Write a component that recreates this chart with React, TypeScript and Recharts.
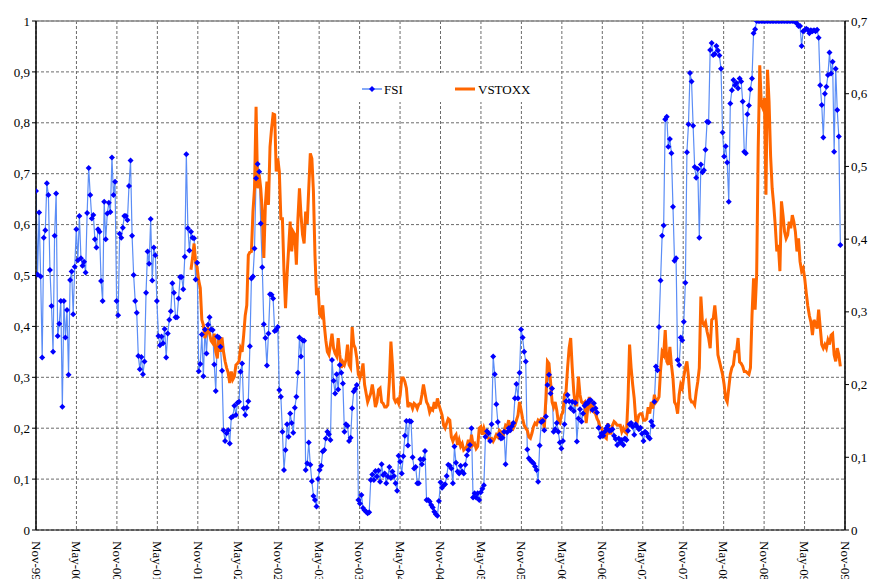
import React from 'react';
import { ComposedChart, Line, XAxis, YAxis, CartesianGrid, ReferenceLine } from 'recharts';

// Weekly observations, first week = start of Nov-1999
const FSI: number[] = [
  0.666, 0.502, 0.624, 0.498, 0.339, 0.574, 0.589, 0.681, 0.658, 0.511,
  0.44, 0.35, 0.578, 0.661, 0.381, 0.405, 0.45, 0.242, 0.45, 0.378,
  0.432, 0.305, 0.491, 0.508, 0.424, 0.517, 0.591, 0.53, 0.617, 0.534,
  0.519, 0.527, 0.506, 0.623, 0.711, 0.658, 0.612, 0.619, 0.571, 0.555,
  0.591, 0.586, 0.489, 0.45, 0.645, 0.571, 0.622, 0.643, 0.625, 0.732,
  0.658, 0.684, 0.45, 0.422, 0.582, 0.574, 0.594, 0.617, 0.617, 0.609,
  0.676, 0.726, 0.578, 0.501, 0.45,
  0.427, 0.342, 0.316, 0.34, 0.306, 0.331, 0.466, 0.547, 0.523, 0.611,
  0.49, 0.555, 0.54, 0.45, 0.381, 0.363, 0.38, 0.367, 0.395, 0.339,
  0.386, 0.413, 0.43, 0.485, 0.466, 0.418, 0.418, 0.455, 0.497, 0.497,
  0.473, 0.537, 0.738, 0.593, 0.549, 0.586, 0.574, 0.573, 0.492, 0.525,
  0.312, 0.326, 0.384, 0.302, 0.394, 0.347, 0.403, 0.418, 0.394, 0.393,
  0.325, 0.273, 0.38, 0.378, 0.36, 0.313, 0.196, 0.175, 0.19, 0.196,
  0.17, 0.221, 0.223, 0.244,
  0.226, 0.25, 0.252, 0.311, 0.327, 0.239, 0.226, 0.24, 0.253, 0.361,
  0.494, 0.498, 0.553, 0.691, 0.719, 0.704, 0.602, 0.516, 0.404, 0.377,
  0.323, 0.386, 0.463, 0.462, 0.455, 0.391, 0.393, 0.399, 0.275, 0.262,
  0.193, 0.118, 0.157, 0.208, 0.183, 0.229, 0.21, 0.191, 0.24, 0.262,
  0.309, 0.378, 0.341, 0.373, 0.372, 0.118, 0.131, 0.172, 0.128, 0.096,
  0.067, 0.059, 0.046, 0.1, 0.118, 0.126, 0.154, 0.157, 0.18, 0.193,
  0.188, 0.177, 0.334, 0.293, 0.268,
  0.306, 0.276, 0.324, 0.309, 0.288, 0.193, 0.208, 0.205, 0.175, 0.181,
  0.239, 0.272, 0.277, 0.285, 0.059, 0.052, 0.069, 0.043, 0.039, 0.036,
  0.033, 0.035, 0.098, 0.109, 0.098, 0.116, 0.105, 0.117, 0.095, 0.129,
  0.108, 0.111, 0.092, 0.105, 0.124, 0.102, 0.115, 0.106, 0.092, 0.077,
  0.146, 0.134, 0.111, 0.145, 0.185, 0.214, 0.166, 0.214, 0.213, 0.143,
  0.121, 0.124, 0.092, 0.092, 0.139, 0.129, 0.139, 0.155, 0.059, 0.059,
  0.056, 0.049, 0.044, 0.036, 0.031,
  0.028, 0.057, 0.094, 0.083, 0.088, 0.09, 0.106, 0.128, 0.126, 0.121,
  0.092, 0.164, 0.132, 0.115, 0.111, 0.126, 0.115, 0.111, 0.128, 0.147,
  0.157, 0.167, 0.2, 0.064, 0.072, 0.064, 0.072, 0.059, 0.074, 0.081,
  0.088, 0.183, 0.194, 0.19, 0.175, 0.208, 0.341, 0.306, 0.247, 0.212,
  0.187, 0.18, 0.181, 0.193, 0.129, 0.192, 0.2, 0.196, 0.204, 0.21,
  0.259, 0.287, 0.259, 0.309, 0.394, 0.378, 0.35, 0.331, 0.158, 0.141,
  0.137, 0.134, 0.131, 0.125, 0.118,
  0.095, 0.166, 0.212, 0.214, 0.196, 0.223, 0.285, 0.305, 0.268, 0.278,
  0.193, 0.198, 0.21, 0.193, 0.172, 0.16, 0.175, 0.208, 0.253, 0.265,
  0.253, 0.239, 0.252, 0.234, 0.25, 0.174, 0.219, 0.237, 0.213, 0.229,
  0.244, 0.249, 0.249, 0.255, 0.255, 0.236, 0.249, 0.239, 0.231, 0.201,
  0.183, 0.19, 0.185, 0.193, 0.2, 0.205, 0.195, 0.196, 0.198, 0.185,
  0.179, 0.167, 0.18, 0.172, 0.177, 0.167, 0.18, 0.177, 0.195, 0.208,
  0.21, 0.203, 0.187,
  0.208, 0.203, 0.198, 0.201, 0.189, 0.175, 0.193, 0.19, 0.183, 0.18,
  0.213, 0.205, 0.252, 0.321, 0.314, 0.399, 0.49, 0.578, 0.598, 0.807,
  0.812, 0.753, 0.768, 0.74, 0.635, 0.529, 0.534, 0.334, 0.324, 0.378,
  0.373, 0.409, 0.486, 0.742, 0.797, 0.898, 0.881, 0.794, 0.713, 0.692,
  0.709, 0.574, 0.718, 0.703, 0.707, 0.747, 0.802, 0.801, 0.943, 0.957,
  0.933, 0.935, 0.951, 0.942, 0.932, 0.906, 0.781, 0.734, 0.754, 0.722,
  0.645, 0.838, 0.864, 0.884, 0.874,
  0.878, 0.868, 0.887, 0.881, 0.842, 0.743, 0.74, 0.817, 0.834, 0.866,
  0.887, 0.976, 0.984,
  1, 1, 1, 1, 1, 1, 1, 1, 1, 1, 1, 1, 1, 1, 1, 1, 1, 1, 1, 1, 1, 1, 1, 1, 1,
  0.998, 0.995, 0.99, 0.99, 0.951,
  0.98, 0.982, 0.985, 0.983, 0.976, 0.982, 0.98, 0.982, 0.98, 0.983,
  0.967, 0.874, 0.835, 0.771, 0.857, 0.871, 0.894, 0.938, 0.897, 0.92,
  0.743, 0.906, 0.825, 0.773, 0.56,
];

// VSTOXX weekly, starting in week 100 (Oct-2001)
const VSTOXX_START_WEEK = 100;
const VSTOXX: number[] = [
  0.358, 0.374, 0.394, 0.369, 0.36, 0.343, 0.333, 0.289, 0.282, 0.264,
  0.27, 0.277, 0.27, 0.26, 0.257, 0.27, 0.245, 0.236, 0.265, 0.245,
  0.265, 0.245, 0.232, 0.223, 0.216, 0.202, 0.218, 0.207,
  0.211, 0.227, 0.229, 0.232, 0.25, 0.245, 0.268, 0.295, 0.309, 0.378,
  0.382, 0.383, 0.438, 0.47, 0.582, 0.47, 0.489, 0.47, 0.438, 0.374,
  0.447, 0.479, 0.447, 0.527, 0.552, 0.572, 0.571, 0.493, 0.511, 0.493,
  0.428, 0.428, 0.356, 0.305, 0.351, 0.387, 0.424, 0.383, 0.41, 0.406,
  0.365, 0.428, 0.47, 0.433, 0.406, 0.394, 0.438, 0.421, 0.47, 0.518,
  0.511, 0.466, 0.378, 0.323, 0.333, 0.297, 0.294, 0.309, 0.282, 0.261,
  0.245, 0.241, 0.255, 0.27, 0.25, 0.243,
  0.239, 0.264, 0.241, 0.223, 0.231, 0.227, 0.234, 0.255, 0.227, 0.223,
  0.279, 0.255, 0.25, 0.236, 0.214, 0.209, 0.216, 0.229, 0.2, 0.188,
  0.176, 0.182, 0.188, 0.2, 0.186, 0.169, 0.176, 0.193, 0.195, 0.176,
  0.174, 0.169, 0.169, 0.172, 0.204, 0.259, 0.227, 0.181, 0.176, 0.179,
  0.174, 0.186, 0.209, 0.209, 0.204, 0.195, 0.169, 0.174, 0.173, 0.167,
  0.174, 0.172, 0.167, 0.173, 0.174, 0.186, 0.2, 0.188, 0.176, 0.172,
  0.162, 0.167, 0.165, 0.176, 0.167,
  0.181, 0.172, 0.165, 0.158, 0.144, 0.14, 0.147, 0.153, 0.151, 0.128,
  0.122, 0.128, 0.131, 0.117, 0.124, 0.115, 0.119, 0.11, 0.112, 0.115,
  0.124, 0.112, 0.131, 0.117, 0.119, 0.112, 0.115, 0.14, 0.142, 0.131,
  0.14, 0.133, 0.128, 0.126, 0.125, 0.126, 0.122, 0.126, 0.131, 0.128,
  0.137, 0.135, 0.126, 0.135, 0.144, 0.142, 0.151, 0.135, 0.144, 0.14,
  0.144, 0.151, 0.158, 0.176, 0.165, 0.153, 0.144, 0.14, 0.137, 0.128,
  0.126, 0.133, 0.142, 0.147, 0.145,
  0.151, 0.149, 0.153, 0.153, 0.14, 0.181, 0.232, 0.229, 0.204, 0.176,
  0.169, 0.176, 0.165, 0.149, 0.147, 0.158, 0.162, 0.186, 0.19, 0.223,
  0.25, 0.264, 0.223, 0.19, 0.172, 0.172, 0.211, 0.186, 0.176, 0.174,
  0.176, 0.147, 0.167, 0.183, 0.167, 0.172, 0.162, 0.16, 0.153, 0.149,
  0.14, 0.14, 0.133, 0.128, 0.126, 0.147, 0.133, 0.133, 0.144, 0.149,
  0.147, 0.144, 0.144, 0.144, 0.135, 0.14, 0.135, 0.133, 0.181, 0.255,
  0.223, 0.2, 0.181,
  0.151, 0.149, 0.158, 0.16, 0.16, 0.151, 0.151, 0.153, 0.169, 0.16,
  0.176, 0.167, 0.186, 0.176, 0.179, 0.183, 0.22, 0.245, 0.241, 0.275,
  0.232, 0.227, 0.252, 0.227, 0.209, 0.176, 0.172, 0.16, 0.186, 0.2,
  0.195, 0.211, 0.223, 0.232, 0.211, 0.181, 0.176, 0.176, 0.172, 0.19,
  0.204, 0.223, 0.321, 0.286, 0.282, 0.286, 0.273, 0.264, 0.25, 0.289,
  0.291, 0.309, 0.286, 0.241, 0.232, 0.223, 0.214, 0.2, 0.181, 0.176,
  0.195, 0.214, 0.223, 0.227, 0.245,
  0.245, 0.264, 0.231, 0.229, 0.225, 0.218, 0.218, 0.216, 0.214, 0.223,
  0.295, 0.346, 0.303, 0.351, 0.525, 0.639, 0.585, 0.58, 0.594, 0.461,
  0.633, 0.589, 0.514, 0.47, 0.447, 0.419, 0.383, 0.392, 0.356, 0.452,
  0.433, 0.41, 0.401, 0.406, 0.424, 0.415, 0.433, 0.424, 0.41, 0.383,
  0.401, 0.369, 0.356, 0.36, 0.346, 0.326, 0.308, 0.295, 0.286, 0.268,
  0.289, 0.284, 0.277, 0.303, 0.279, 0.255, 0.25, 0.255, 0.25, 0.261,
  0.255, 0.268, 0.27, 0.241, 0.232, 0.25, 0.241, 0.225,
];

const X_LABELS = [
  'Nov-99', 'May-00', 'Nov-00', 'May-01', 'Nov-01', 'May-02', 'Nov-02',
  'May-03', 'Nov-03', 'May-04', 'Nov-04', 'May-05', 'Nov-05', 'May-06',
  'Nov-06', 'May-07', 'Nov-07', 'May-08', 'Nov-08', 'May-09', 'Nov-09',
];
const WEEKS_PER_HALF_YEAR = 26.1;
const LEFT_TICKS = [0, 0.1, 0.2, 0.3, 0.4, 0.5, 0.6, 0.7, 0.8, 0.9, 1];
const RIGHT_TICKS = [0, 0.1, 0.2, 0.3, 0.4, 0.5, 0.6, 0.7];

const data = FSI.map((v, i) => ({
  w: i,
  fsi: v,
  vstoxx: i >= VSTOXX_START_WEEK && i - VSTOXX_START_WEEK < VSTOXX.length ? VSTOXX[i - VSTOXX_START_WEEK] : null,
}));

const xTicks = X_LABELS.map((_, i) => i * WEEKS_PER_HALF_YEAR);
const FONT = '"Liberation Serif", "Times New Roman", serif';
const fmt = (v: number) => String(Math.round(v * 10) / 10).replace('.', ',');

const XTick = (props: any) => {
  const { x, y, payload } = props;
  const idx = Math.round(payload.value / WEEKS_PER_HALF_YEAR);
  const ty = y + 3;
  return (
    <text x={x} y={ty} transform={`rotate(90, ${x}, ${ty})`} textAnchor="start" dy="0.33em"
      fontFamily={FONT} fontSize={13} fill="#000">
      {X_LABELS[idx]}
    </text>
  );
};

const Diamond = (props: any) => {
  const { cx, cy, index } = props;
  if (cx == null || cy == null) return <g key={`d${index}`} />;
  return <path key={`d${index}`} d={`M${cx},${cy - 3}L${cx + 3},${cy}L${cx},${cy + 3}L${cx - 3},${cy}Z`} fill="#0000FF" />;
};

const LegendBox = () => (
  <div style={{ position: 'absolute', left: 350, top: 65, width: 177, height: 29, background: '#fff' }}>
    <svg width={177} height={29} style={{ display: 'block' }}>
      <line x1={4} y1={16} x2={24} y2={16} stroke="#5B8DF6" strokeWidth={1.5} />
      <path d="M14,13L17,16L14,19L11,16Z" fill="#0000FF" />
      <text x={26} y={20.5} fontFamily={FONT} fontSize={13} fill="#000">FSI</text>
      <line x1={97} y1={16} x2={117} y2={16} stroke="#FF6600" strokeWidth={3} />
      <text x={120} y={20.5} fontFamily={FONT} fontSize={13} fill="#000">VSTOXX</text>
    </svg>
  </div>
);

export default function App() {
  return (
    <div style={{ position: 'relative', width: 873, height: 571 }}>
      <ComposedChart width={873} height={571} data={data} margin={{ top: 13, right: 0, bottom: 0, left: 0 }}>
        <CartesianGrid stroke="#6b6b6b" strokeDasharray="3 2" verticalValues={xTicks} horizontalValues={LEFT_TICKS} />
        <XAxis dataKey="w" type="number" domain={[0, 20 * WEEKS_PER_HALF_YEAR]} ticks={xTicks} interval={0}
          tick={<XTick />} tickLine={false} axisLine={{ stroke: '#000' }} height={49} allowDataOverflow />
        <YAxis domain={[0, 1]} ticks={LEFT_TICKS} tickFormatter={fmt} width={28} interval={0}
          tick={{ fontFamily: FONT, fontSize: 13, fill: '#000' }} tickSize={4}
          axisLine={{ stroke: '#000', strokeWidth: 1.5 }} tickLine={{ stroke: '#000' }} allowDataOverflow />
        <YAxis yAxisId="right" orientation="right" domain={[0, 0.7]} ticks={RIGHT_TICKS} tickFormatter={fmt} width={36} interval={0}
          tick={{ fontFamily: FONT, fontSize: 13, fill: '#000' }} tickSize={4}
          axisLine={{ stroke: '#000', strokeWidth: 1.5 }} tickLine={{ stroke: '#000' }} allowDataOverflow />
        <ReferenceLine y={1} stroke="#8a8a8a" strokeWidth={1.5} />
        <Line dataKey="fsi" stroke="#5B8DF6" strokeWidth={1.2} dot={Diamond} activeDot={false}
          isAnimationActive={false} name="FSI" />
        <Line yAxisId="right" dataKey="vstoxx" stroke="#FF6600" strokeWidth={3} dot={false} activeDot={false}
          isAnimationActive={false} connectNulls={false} name="VSTOXX" />
      </ComposedChart>
      <LegendBox />
    </div>
  );
}
